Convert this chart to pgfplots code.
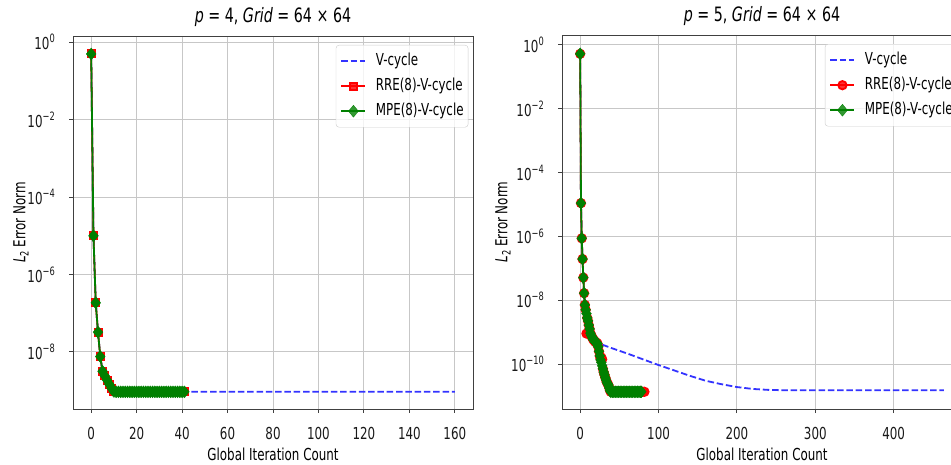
\documentclass[border=0pt]{standalone}
\usepackage{fontspec}
\setmainfont{DejaVu Sans}[FakeStretch=0.72, ItalicFont={DejaVu Sans Oblique}]
\usepackage{pgfplots}
\pgfplotsset{compat=1.18}
\definecolor{vblue}{rgb}{0.2,0.2,1}
\definecolor{mgreen}{rgb}{0,0.5,0}
\definecolor{rred}{rgb}{1,0,0}
\newcommand{\sups}[1]{\raisebox{0.42em}{\fontsize{11.5}{12}\selectfont #1}}
\newcommand{\subs}[1]{\raisebox{-0.2em}{\fontsize{11.5}{12}\selectfont #1}}
\pgfplotsset{
  myaxis/.style={
    scale only axis, width=400pt,
    axis line style={black!75, line width=0.9pt},
    grid=major, major grid style={black!22, line width=0.9pt},
    tick align=outside, major tick length=4pt,
    tick style={black!75, line width=0.9pt},
    minor tick style={draw=none},
    xtick pos=left, ytick pos=left,
    ticklabel style={font=\fontsize{16.5}{18}\selectfont, text=black!90},
    /pgf/number format/assume math mode=true,
    yticklabel style={inner sep=0pt, anchor=east, xshift=-14pt},
    xticklabel style={inner sep=0pt, anchor=north, yshift=-14pt},
    title style={font=\fontsize{19.8}{22}\selectfont, at={([yshift=13pt]axis description cs:0.5,1)}, anchor=center},
    xlabel style={font=\fontsize{16.5}{18}\selectfont, at={([yshift=-45pt]axis description cs:0.5,0)}, anchor=center},
    ylabel style={font=\fontsize{16.5}{18}\selectfont, anchor=center},
    legend cell align=left,
    legend style={font=\fontsize{16.5}{18}\selectfont, draw=black!20, rounded corners=3pt,
      fill=white, fill opacity=0.8, text opacity=1, at={(1,1)}, anchor=north east,
      xshift=-4.7pt, yshift=-9pt, inner xsep=4.5pt, inner ysep=3.5pt, row sep=0pt,
      nodes={inner xsep=0pt, inner ysep=4.5pt, text height=12pt, text depth=4pt},
      /tikz/every odd column/.append style={column sep=9.5pt}},
    legend image code/.code={\draw[mark repeat=2, mark phase=2, #1] plot coordinates {(0pt,0pt) (12pt,0pt) (24pt,0pt)};},
  },
  vstyle/.style={vblue, line width=1.8pt, dash pattern=on 6.5pt off 2.8pt, no marks},
  rstyle/.style={rred, line width=1.8pt, solid},
  mstyle/.style={mgreen, line width=1.8pt, solid, mark=diamond*, mark size=6pt, mark options={solid, fill=mgreen, draw=mgreen, line width=0.3pt, xscale=1.1}},
}
\begin{document}
\begin{tikzpicture}
\begin{semilogyaxis}[myaxis, at={(73pt,55pt)}, anchor=south west, height=373pt,
  xmin=-8, xmax=168, ymin=3.35e-10, ymax=1.456,
  xtick={0,20,...,160},
  ytick={1,1e-2,1e-4,1e-6,1e-8},
  yticklabels={10\sups{0},10\sups{−2},10\sups{−4},10\sups{−6},10\sups{−8}},
  title={{\itshape p} = 4, {\itshape Grid} = 64 × 64},
  xlabel={Global Iteration Count},
  ylabel={{\itshape L}\subs{2} Error Norm},
  ylabel style={at={([xshift=-52pt]axis description cs:0,0.5)}},
]
\addplot[vstyle] coordinates {(0,0.5) (1,1e-5) (2,1.86e-7) (3,3.24e-8) (4,7.6e-9) (5,3.16e-9) (6,2.4e-9) (7,1.86e-9) (8,1.45e-9) (9,1.15e-9) (10,9.5e-10) (11,9.3e-10) (20,9.3e-10) (40,9.3e-10) (60,9.3e-10) (80,9.3e-10) (100,9.3e-10) (120,9.3e-10) (140,9.3e-10) (160,9.3e-10)};
\addlegendentry{V-cycle}
\addplot[rstyle, mark=square*, mark size=3.6pt, mark options={solid, fill=rred, draw=rred}] coordinates {(0,0.5) (1,1e-5) (2,1.86e-7) (3,3.24e-8) (4,7.6e-9) (5,3.16e-9) (6,2.4e-9) (7,1.86e-9) (8,1.45e-9) (9,1.15e-9) (10,9.5e-10) (11,9.3e-10) (12,9.3e-10) (13,9.3e-10) (14,9.3e-10) (15,9.3e-10) (16,9.3e-10) (17,9.3e-10) (18,9.3e-10) (19,9.3e-10) (20,9.3e-10) (21,9.3e-10) (22,9.3e-10) (23,9.3e-10) (24,9.3e-10) (25,9.3e-10) (26,9.3e-10) (27,9.3e-10) (28,9.3e-10) (29,9.3e-10) (30,9.3e-10) (31,9.3e-10) (32,9.3e-10) (33,9.3e-10) (34,9.3e-10) (35,9.3e-10) (36,9.3e-10) (37,9.3e-10) (38,9.3e-10) (39,9.3e-10) (40,9.3e-10) (41,9.3e-10)};
\addlegendentry{RRE(8)-V-cycle}
\addplot[mstyle] coordinates {(0,0.5) (1,1e-5) (2,1.86e-7) (3,3.24e-8) (4,7.6e-9) (5,3.16e-9) (6,2.4e-9) (7,1.86e-9) (8,1.45e-9) (9,1.15e-9) (10,9.5e-10) (11,9.3e-10) (12,9.3e-10) (13,9.3e-10) (14,9.3e-10) (15,9.3e-10) (16,9.3e-10) (17,9.3e-10) (18,9.3e-10) (19,9.3e-10) (20,9.3e-10) (21,9.3e-10) (22,9.3e-10) (23,9.3e-10) (24,9.3e-10) (25,9.3e-10) (26,9.3e-10) (27,9.3e-10) (28,9.3e-10) (29,9.3e-10) (30,9.3e-10) (31,9.3e-10) (32,9.3e-10) (33,9.3e-10) (34,9.3e-10) (35,9.3e-10) (36,9.3e-10) (37,9.3e-10) (38,9.3e-10) (39,9.3e-10) (40,9.3e-10) (41,9.3e-10)};
\addlegendentry{MPE(8)-V-cycle}
\end{semilogyaxis}
\begin{semilogyaxis}[myaxis, at={(562pt,55pt)}, anchor=south west, height=374pt,
  xmin=-23.2, xmax=487.2, ymin=3.9e-12, ymax=2.04,
  xtick={0,100,...,400},
  ytick={1,1e-2,1e-4,1e-6,1e-8,1e-10},
  yticklabels={10\sups{0},10\sups{−2},10\sups{−4},10\sups{−6},10\sups{−8},10\sups{−10}},
  title={{\itshape p} = 5, {\itshape Grid} = 64 × 64},
  xlabel={Global Iteration Count},
  ylabel={{\itshape L}\subs{2} Error Norm},
  ylabel style={at={([xshift=-59pt]axis description cs:0,0.5)}},
]
\addplot[vstyle] coordinates {(0,0.525) (1,1.1e-5) (2,8.7e-7) (3,1.95e-7) (4,5.1e-8) (5,1.66e-8) (6,7.1e-9) (7,5.0e-9) (8,3.8e-9) (9,2.8e-9) (10,2.24e-9) (11,1.66e-9) (12,1.26e-9) (13,9.3e-10) (14,7.9e-10) (15,7.1e-10) (16,6.3e-10) (17,5.75e-10) (18,5.4e-10) (19,5.0e-10) (20,4.8e-10) (22,4.6e-10) (40,3.16e-10) (60,2.14e-10) (80,1.41e-10) (100,9.3e-11) (120,6.3e-11) (140,4.27e-11) (160,3.0e-11) (180,2.34e-11) (200,1.9e-11) (220,1.66e-11) (240,1.55e-11) (260,1.51e-11) (300,1.51e-11) (350,1.51e-11) (400,1.51e-11) (464,1.51e-11)};
\addlegendentry{V-cycle}
\addplot[rstyle, mark=*, mark size=4.2pt, mark options={solid, fill=rred, draw=rred}] coordinates {(0,0.525) (1,1.1e-5) (2,8.7e-7) (3,1.95e-7) (4,5.1e-8) (5,1.66e-8) (6,7.1e-9) (7,5.0e-9) (8,9.0e-10) (9,2.8e-9) (10,2.24e-9) (11,1.66e-9) (12,1.26e-9) (13,9.3e-10) (14,7.9e-10) (15,7.1e-10) (16,6.3e-10) (17,5.75e-10) (18,5.4e-10) (19,5.0e-10) (20,4.8e-10) (21,4.6e-10) (22,4.4e-10) (23,3.5e-10) (24,2.5e-10) (25,1.8e-10) (26,1.5e-10) (27,1.6e-10) (28,1.4e-10) (29,7.1e-11) (30,5.6e-11) (31,4.6e-11) (32,3.8e-11) (33,3.2e-11) (34,2.7e-11) (35,2.4e-11) (36,2.2e-11) (37,1.8e-11) (38,1.5e-11) (39,1.35e-11) (42,1.35e-11) (44,1.35e-11) (46,1.35e-11) (48,1.35e-11) (50,1.35e-11) (52,1.35e-11) (54,1.35e-11) (56,1.35e-11) (58,1.35e-11) (60,1.35e-11) (62,1.35e-11) (64,1.35e-11) (66,1.35e-11) (68,1.35e-11) (70,1.35e-11) (72,1.35e-11) (74,1.35e-11) (76,1.35e-11) (78,1.35e-11) (80,1.35e-11) (82,1.35e-11)};
\addlegendentry{RRE(8)-V-cycle}
\addplot[mstyle] coordinates {(0,0.525) (1,1.1e-5) (2,8.7e-7) (3,1.95e-7) (4,5.1e-8) (5,1.66e-8) (6,7.1e-9) (7,5.0e-9) (8,3.8e-9) (9,2.8e-9) (10,2.24e-9) (11,1.66e-9) (12,1.26e-9) (13,9.3e-10) (14,7.9e-10) (15,7.1e-10) (16,6.3e-10) (17,5.75e-10) (18,5.4e-10) (19,5.0e-10) (20,4.8e-10) (21,4.6e-10) (22,4.4e-10) (23,3.5e-10) (24,2.5e-10) (25,1.8e-10) (26,1.35e-10) (27,1.12e-10) (28,8.9e-11) (29,7.1e-11) (30,5.6e-11) (31,4.6e-11) (32,3.8e-11) (33,3.2e-11) (34,2.7e-11) (35,2.4e-11) (36,2.2e-11) (37,1.8e-11) (38,1.5e-11) (39,1.35e-11) (41,1.35e-11) (43,1.35e-11) (45,1.35e-11) (47,1.35e-11) (49,1.35e-11) (51,1.35e-11) (53,1.35e-11) (55,1.35e-11) (57,1.35e-11) (59,1.35e-11) (61,1.35e-11) (63,1.35e-11) (65,1.35e-11) (67,1.35e-11) (69,1.35e-11) (71,1.35e-11) (73,1.35e-11) (75,1.35e-11) (77,1.35e-11) (78,1.35e-11)};
\addlegendentry{MPE(8)-V-cycle}
\end{semilogyaxis}
\pgfresetboundingbox
\path[use as bounding box] (0pt,0pt) rectangle (951pt,464pt);
\end{tikzpicture}
\end{document}
